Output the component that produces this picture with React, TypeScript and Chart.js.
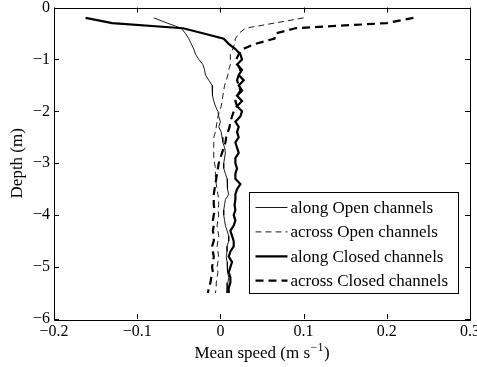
import React, { useEffect, useRef } from "react";
import { Chart, registerables } from "chart.js";

Chart.register(...registerables);

const depths = [
  -0.2, -0.3, -0.4, -0.5, -0.6, -0.7, -0.8, -0.9, -1.0, -1.1,
  -1.2, -1.3, -1.4, -1.5, -1.6, -1.7, -1.8, -1.9, -2.0, -2.1,
  -2.2, -2.3, -2.4, -2.5, -2.6, -2.7, -2.8, -2.9, -3.0, -3.1,
  -3.2, -3.3, -3.4, -3.5, -3.6, -3.7, -3.8, -3.9, -4.0, -4.1,
  -4.2, -4.3, -4.4, -4.5, -4.6, -4.7, -4.8, -4.9, -5.0, -5.1,
  -5.2, -5.3, -5.4, -5.5,
];

const alongOpen = [
  -0.080, -0.064, -0.047, -0.042, -0.038, -0.035, -0.032, -0.030, -0.026, -0.021,
  -0.019, -0.018, -0.014, -0.010, -0.010, -0.009, -0.008, -0.006, -0.003, -0.002,
  0.000, -0.002, 0.001, 0.002, 0.003, 0.005, 0.006, 0.005, 0.004, 0.004,
  0.006, 0.008, 0.008, 0.009, 0.010, 0.006, 0.005, 0.004, 0.004, 0.005,
  0.006, 0.008, 0.010, 0.010, 0.008, 0.008, 0.007, 0.008, 0.008, 0.009,
  0.010, 0.009, 0.008, 0.008,
];

const acrossOpen = [
  0.100, 0.065, 0.030, 0.022, 0.018, 0.017, 0.015, 0.012, 0.012, 0.012,
  0.010, 0.009, 0.007, 0.005, 0.004, 0.003, 0.002, 0.001, -0.001, -0.003,
  -0.004, -0.005, -0.006, -0.008, -0.008, -0.008, -0.008, -0.008, -0.007, -0.006,
  -0.006, -0.006, -0.005, -0.004, -0.003, -0.002, -0.002, -0.003, -0.002, -0.003,
  -0.004, -0.003, -0.002, -0.003, -0.004, -0.003, -0.002, -0.003, -0.004, -0.003,
  -0.004, -0.005, -0.005, -0.006,
];

const alongClosed = [
  -0.162, -0.130, -0.045, -0.020, 0.004, 0.010, 0.018, 0.024, 0.026, 0.020,
  0.026, 0.022, 0.028, 0.022, 0.026, 0.020, 0.026, 0.020, 0.026, 0.024,
  0.018, 0.022, 0.020, 0.022, 0.018, 0.020, 0.022, 0.018, 0.018, 0.020,
  0.018, 0.018, 0.024, 0.020, 0.018, 0.018, 0.017, 0.018, 0.016, 0.018,
  0.016, 0.012, 0.014, 0.016, 0.016, 0.012, 0.010, 0.014, 0.012, 0.010,
  0.012, 0.012, 0.010, 0.010,
];

const acrossClosed = [
  0.232, 0.200, 0.090, 0.066, 0.065, 0.042, 0.027, 0.022, 0.019, 0.021,
  0.024, 0.022, 0.020, 0.022, 0.024, 0.020, 0.018, 0.020, 0.016, 0.014,
  0.012, 0.011, 0.009, 0.007, 0.006, 0.004, 0.002, 0.000, -0.002, -0.003,
  -0.004, -0.005, -0.006, -0.007, -0.008, -0.008, -0.008, -0.007, -0.008, -0.009,
  -0.008, -0.009, -0.008, -0.008, -0.010, -0.009, -0.008, -0.009, -0.010, -0.009,
  -0.011, -0.012, -0.014, -0.015,
];

const seriesLabels = [
  "along Open channels",
  "across Open channels",
  "along Closed channels",
  "across Closed channels",
];

const xTicks = [-0.2, -0.1, 0, 0.1, 0.2, 0.3];
const yTicks = [0, -1, -2, -3, -4, -5, -6];

const xTitleMain = "Mean speed (m s";
const xTitleSup = "\u22121";
const xTitleEnd = ")";
const yTitle = "Depth (m)";

const FONT = "'Liberation Serif', 'Times New Roman', serif";

function fmt(v: number): string {
  const r = Math.round(v * 10) / 10;
  if (r === 0) return "0";
  const s = String(Math.abs(r));
  return r < 0 ? "\u2212" + s : s;
}

const frameAndLegend = {
  id: "frameAndLegend",
  afterDatasetsDraw(chart: any) {
    const { ctx, chartArea } = chart;
    const { left, right, top, bottom } = chartArea;
    const xs = chart.scales.x;
    const ys = chart.scales.y;
    ctx.save();
    ctx.strokeStyle = "#000";
    ctx.lineWidth = 1;
    ctx.setLineDash([]);
    // box
    ctx.beginPath();
    ctx.rect(Math.round(left) + 0.5, Math.round(top) + 0.5, Math.round(right - left), Math.round(bottom - top));
    ctx.stroke();
    // inward ticks
    const tl = 5;
    ctx.beginPath();
    for (const v of xTicks) {
      const px = Math.round(xs.getPixelForValue(v)) + 0.5;
      ctx.moveTo(px, bottom);
      ctx.lineTo(px, bottom - tl);
      ctx.moveTo(px, top);
      ctx.lineTo(px, top + tl);
    }
    for (const v of yTicks) {
      const py = Math.round(ys.getPixelForValue(v)) + 0.5;
      ctx.moveTo(left, py);
      ctx.lineTo(left + tl, py);
      ctx.moveTo(right, py);
      ctx.lineTo(right - tl, py);
    }
    ctx.stroke();

    // x-axis title with superscript
    ctx.fillStyle = "#000";
    ctx.textBaseline = "alphabetic";
    ctx.textAlign = "left";
    ctx.font = "17px " + FONT;
    const wMain = ctx.measureText(xTitleMain).width;
    const wEnd = ctx.measureText(xTitleEnd).width;
    ctx.font = "12px " + FONT;
    const wSup = ctx.measureText(xTitleSup).width;
    const total = wMain + wSup + wEnd + 1;
    let tx = (left + right) / 2 - total / 2;
    const baseY = 358;
    ctx.font = "17px " + FONT;
    ctx.fillText(xTitleMain, tx, baseY);
    tx += wMain + 0.5;
    ctx.font = "12px " + FONT;
    ctx.fillText(xTitleSup, tx, baseY - 7);
    tx += wSup + 0.5;
    ctx.font = "17px " + FONT;
    ctx.fillText(xTitleEnd, tx, baseY);

    // legend
    const bx = Math.round(right - 221) + 0.5;
    const by = Math.round(bottom - 127) + 0.5;
    const bw = 209;
    const bh = 101;
    ctx.fillStyle = "#fff";
    ctx.fillRect(bx, by, bw, bh);
    ctx.strokeRect(bx, by, bw, bh);
    ctx.font = "17px " + FONT;
    ctx.textBaseline = "middle";
    ctx.textAlign = "left";
    const dsets = chart.data.datasets;
    for (let i = 0; i < dsets.length; i++) {
      const d = dsets[i];
      const cy = by + 15 + i * 24.4;
      ctx.beginPath();
      ctx.lineWidth = d.borderWidth;
      ctx.setLineDash(d.borderDash || []);
      ctx.strokeStyle = d.borderColor;
      ctx.moveTo(bx + 6, cy);
      ctx.lineTo(bx + 38, cy);
      ctx.stroke();
      ctx.fillStyle = "#000";
      ctx.fillText(d.label, bx + 41, cy + 1);
    }
    ctx.restore();
  },
};

export default function App() {
  const ref = useRef<HTMLCanvasElement | null>(null);

  useEffect(() => {
    document.body.style.margin = "0";
    const canvas = ref.current;
    if (!canvas) return;
    const mk = (vals: number[]) => vals.map((v, i) => ({ x: v, y: depths[i] }));
    const styles = [
      { borderWidth: 0.9, borderDash: [] as number[] },
      { borderWidth: 0.9, borderDash: [6, 4] },
      { borderWidth: 2.2, borderDash: [] as number[] },
      { borderWidth: 2.2, borderDash: [8, 5] },
    ];
    const seriesVals = [alongOpen, acrossOpen, alongClosed, acrossClosed];
    const chart = new Chart(canvas, {
      type: "scatter",
      data: {
        datasets: seriesVals.map((vals, i) => ({
          label: seriesLabels[i],
          data: mk(vals),
          showLine: true,
          borderColor: "#000",
          backgroundColor: "#000",
          pointRadius: 0,
          tension: 0,
          borderWidth: styles[i].borderWidth,
          borderDash: styles[i].borderDash,
        })),
      },
      options: {
        animation: false,
        responsive: true,
        maintainAspectRatio: false,
        layout: { padding: { left: 0, top: 7.5, right: 7, bottom: 0 } },
        plugins: {
          legend: { display: false },
          tooltip: { enabled: false },
        },
        scales: {
          x: {
            type: "linear",
            min: -0.2,
            max: 0.3,
            afterBuildTicks(scale: any) {
              scale.ticks = xTicks.map((v) => ({ value: v }));
            },
            afterFit(scale: any) {
              scale.height = 48;
              scale.paddingLeft = 0;
              scale.paddingRight = 0;
            },
            grid: { display: false, drawTicks: false },
            border: { display: false },
            ticks: {
              padding: 3,
              color: "#000",
              font: { family: FONT, size: 16 },
              maxRotation: 0,
              autoSkip: false,
              callback: (v: any) => fmt(Number(v)),
            },
            title: { display: false },
          },
          y: {
            type: "linear",
            min: -6,
            max: 0,
            afterBuildTicks(scale: any) {
              scale.ticks = yTicks.map((v) => ({ value: v }));
            },
            afterFit(scale: any) {
              scale.width = 54;
              scale.paddingTop = 0;
              scale.paddingBottom = 0;
            },
            grid: { display: false, drawTicks: false },
            border: { display: false },
            ticks: {
              padding: 4,
              color: "#000",
              font: { family: FONT, size: 16 },
              autoSkip: false,
              callback: (v: any) => fmt(Number(v)),
            },
            title: {
              display: true,
              text: yTitle,
              color: "#000",
              font: { family: FONT, size: 17 },
              padding: { top: 7, bottom: 0 },
            },
          },
        },
      },
      plugins: [frameAndLegend],
    } as any);
    return () => chart.destroy();
  }, []);

  return (
    <div style={{ width: 477, height: 367, position: "relative" }}>
      <canvas ref={ref} />
    </div>
  );
}
